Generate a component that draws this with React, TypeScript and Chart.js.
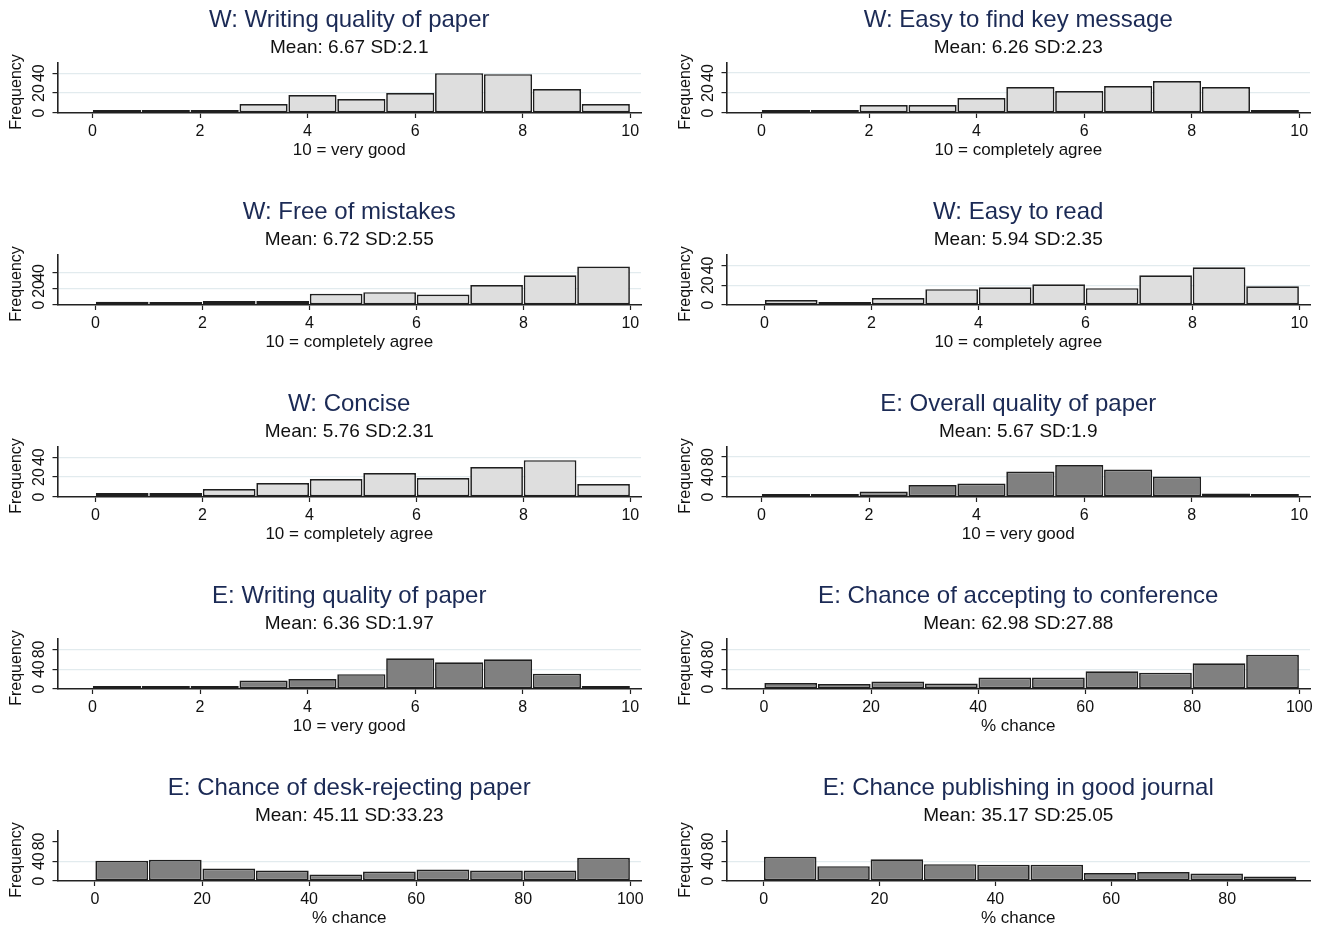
import React, { useEffect, useRef } from "react";
import { Chart, registerables } from "chart.js";

Chart.register(...registerables);

const FONT = "'Liberation Sans', Arial, Helvetica, sans-serif";

// ---- Text ----
const panelTitles = [
  "W: Writing quality of paper",
  "W: Easy to find key message",
  "W: Free of mistakes",
  "W: Easy to read",
  "W: Concise",
  "E: Overall quality of paper",
  "E: Writing quality of paper",
  "E: Chance of accepting to conference",
  "E: Chance of desk-rejecting paper",
  "E: Chance publishing in good journal",
];
const panelSubtitles = [
  "Mean: 6.67 SD:2.1",
  "Mean: 6.26 SD:2.23",
  "Mean: 6.72 SD:2.55",
  "Mean: 5.94 SD:2.35",
  "Mean: 5.76 SD:2.31",
  "Mean: 5.67 SD:1.9",
  "Mean: 6.36 SD:1.97",
  "Mean: 62.98 SD:27.88",
  "Mean: 45.11 SD:33.23",
  "Mean: 35.17 SD:25.05",
];
const xAxisTitles = [
  "10 = very good",
  "10 = completely agree",
  "10 = completely agree",
  "10 = completely agree",
  "10 = completely agree",
  "10 = very good",
  "10 = very good",
  "% chance",
  "% chance",
  "% chance",
];
const yAxisTitle = "Frequency";

// ---- Histogram frequencies (per bin) ----
const wWritingQuality = [2, 1, 3, 9, 18, 14, 20, 40, 39, 24, 9];
const wKeyMessage = [1, 1, 8, 8, 15, 26, 22, 27, 32, 26, 3];
const wFreeOfMistakes = [4, 3, 5, 5, 14, 16, 13, 25, 37, 48];
const wEasyToRead = [5, 1, 7, 16, 18, 21, 17, 30, 38, 19];
const wConcise = [4, 4, 8, 14, 18, 24, 19, 30, 37, 13];
const eOverallQuality = [2, 6, 11, 24, 27, 51, 64, 55, 41, 7, 2];
const eWritingQuality = [1, 1, 4, 17, 20, 30, 62, 54, 60, 31, 3];
const eAcceptConference = [12, 10, 15, 11, 23, 23, 36, 33, 52, 69];
const eDeskReject = [41, 43, 25, 21, 13, 19, 23, 21, 21, 47];
const eGoodJournal = [49, 30, 44, 34, 33, 33, 16, 18, 15, 9];

const panelCounts = [
  wWritingQuality, wKeyMessage, wFreeOfMistakes, wEasyToRead, wConcise,
  eOverallQuality, eWritingQuality, eAcceptConference, eDeskReject, eGoodJournal,
];

// ---- Bin layout (start, width) ----
const binStart = [0, 0, 0, 0, 0, 0, 0, 0, 0, 0];
const binWidth = [10 / 11, 10 / 11, 1, 1, 1, 10 / 11, 10 / 11, 10, 10, 9.2];

// ---- Axes ----
const xMin = [-0.65, -0.65, -0.71, -0.71, -0.71, -0.65, -0.65, -7, -7, -6.4];
const xMax = [10.2, 10.2, 10.2, 10.2, 10.2, 10.2, 10.2, 102, 102, 94.3];
const xTicks10 = [0, 2, 4, 6, 8, 10];
const xTicks100 = [0, 20, 40, 60, 80, 100];
const xTicks80 = [0, 20, 40, 60, 80];
const panelXTicks = [xTicks10, xTicks10, xTicks10, xTicks10, xTicks10, xTicks10, xTicks10, xTicks100, xTicks100, xTicks80];
const yMax = [50.7, 50.5, 63, 51, 50.7, 101, 102, 102, 102, 102];
const yTicks40 = [0, 20, 40];
const yTicks80 = [0, 40, 80];
const panelYTicks = [yTicks40, yTicks40, yTicks40, yTicks40, yTicks40, yTicks80, yTicks80, yTicks80, yTicks80, yTicks80];
const panelGrid = [[20, 40], [20, 40], [20, 40], [20, 40], [20, 40], [40, 80], [40, 80], [40, 80], [40], [40]];
const panelDark = [false, false, false, false, false, true, true, true, true, true];

const CANVAS_W = 657;
const CANVAS_H = 192;

const panelTextPlugin = {
  id: "panelText",
  afterDraw(chart: any, _args: any, opts: any) {
    const { ctx, chartArea, scales } = chart;
    const cx = (chartArea.left + chartArea.right) / 2;
    ctx.save();
    ctx.textAlign = "center";
    ctx.textBaseline = "middle";
    ctx.fillStyle = "#1b2a55";
    ctx.font = `24px ${FONT}`;
    ctx.fillText(opts.title, cx, 20);
    ctx.fillStyle = "#111111";
    ctx.font = `19px ${FONT}`;
    ctx.fillText(opts.subtitle, cx, 47.5);
    // y tick labels (rotated)
    ctx.font = `16px ${FONT}`;
    for (const v of opts.yTicks) {
      const y = scales.y.getPixelForValue(v);
      ctx.save();
      ctx.translate(40, y);
      ctx.rotate(-Math.PI / 2);
      ctx.fillText(String(v), 0, 0);
      ctx.restore();
    }
    // y axis title
    ctx.save();
    ctx.translate(17, chartArea.bottom - 21);
    ctx.rotate(-Math.PI / 2);
    ctx.fillText(yAxisTitle, 0, 0);
    ctx.restore();
    ctx.restore();
  },
};

function Panel({ idx }: { idx: number }) {
  const ref = useRef<HTMLCanvasElement | null>(null);
  useEffect(() => {
    if (!ref.current) return;
    const counts = panelCounts[idx];
    const w = binWidth[idx];
    const s = binStart[idx];
    const data = counts.map((c, i) => ({ x: s + (i + 0.5) * w, y: c }));
    const gridVals = panelGrid[idx];
    const xt = panelXTicks[idx];
    const yt = panelYTicks[idx];
    const chart = new Chart(ref.current, {
      type: "bar",
      data: {
        datasets: [
          {
            data,
            backgroundColor: panelDark[idx] ? "#808080" : "#dedede",
            borderColor: "#1f1f1f",
            borderWidth: 1.7,
            inflateAmount: 0,
            minBarLength: 3,
            barPercentage: 0.985,
            categoryPercentage: 1,
            borderSkipped: false,
          } as any,
        ],
      },
      options: {
        animation: false,
        responsive: false,
        maintainAspectRatio: false,
        events: [],
        layout: { padding: { top: 62.5, left: 0, right: 16, bottom: 0 } },
        plugins: {
          legend: { display: false },
          tooltip: { enabled: false },
          panelText: {
            title: panelTitles[idx],
            subtitle: panelSubtitles[idx],
            yTicks: yt,
          },
        } as any,
        scales: {
          x: {
            type: "linear",
            min: xMin[idx],
            max: xMax[idx],
            offset: false,
            afterBuildTicks: (sc: any) => {
              sc.ticks = xt.map((v) => ({ value: v }));
            },
            afterFit: (sc: any) => {
              sc.height = CANVAS_H - 113;
              sc.paddingLeft = 0;
              sc.paddingRight = 0;
            },
            ticks: {
              font: { family: FONT, size: 16 },
              color: "#111111",
              padding: 4,
              maxRotation: 0,
              minRotation: 0,
              autoSkip: false,
              callback: (v: any) => String(v),
            },
            grid: {
              drawOnChartArea: false,
              drawTicks: true,
              tickLength: 5,
              tickColor: "#222222",
              tickWidth: 1.2,
              offset: false,
            },
            border: { display: true, color: "#222222", width: 1.6 },
            title: {
              display: true,
              text: xAxisTitles[idx],
              font: { family: FONT, size: 17 },
              color: "#111111",
              padding: { top: 0, bottom: 31 },
            },
          },
          y: {
            type: "linear",
            min: 0,
            max: yMax[idx],
            afterBuildTicks: (sc: any) => {
              sc.ticks = yt.map((v) => ({ value: v }));
            },
            afterFit: (sc: any) => {
              sc.width = 57.5;
            },
            ticks: { display: false },
            grid: {
              color: (c: any) =>
                c.tick && gridVals.includes(c.tick.value) ? "#e2ebee" : "rgba(0,0,0,0)",
              lineWidth: 1.2,
              drawTicks: true,
              tickLength: 5,
              tickColor: "#222222",
              tickWidth: 1.2,
            },
            border: { display: true, color: "#222222", width: 1.6 },
          },
        } as any,
      },
      plugins: [panelTextPlugin as any],
    });
    return () => chart.destroy();
  }, [idx]);
  const col = idx % 2;
  const row = Math.floor(idx / 2);
  return (
    <canvas
      ref={ref}
      width={CANVAS_W}
      height={CANVAS_H}
      style={{
        position: "absolute",
        left: col * 669,
        top: row * CANVAS_H,
        width: CANVAS_W,
        height: CANVAS_H,
        display: "block",
      }}
    />
  );
}

export default function App() {
  return (
    <div
      style={{
        position: "absolute",
        left: 0,
        top: 0,
        width: 1326,
        height: 928,
        background: "#ffffff",
        overflow: "hidden",
      }}
    >
      {panelTitles.map((_, i) => (
        <Panel key={i} idx={i} />
      ))}
    </div>
  );
}
